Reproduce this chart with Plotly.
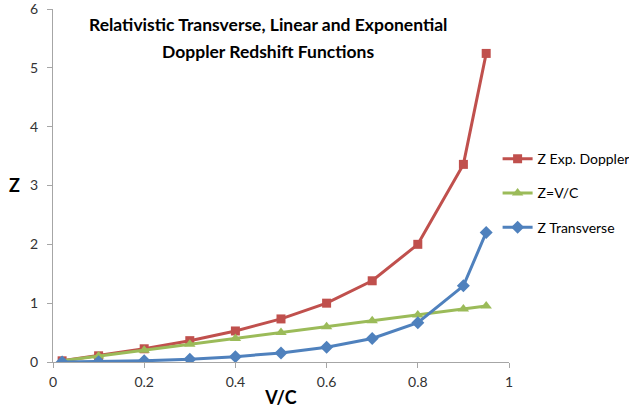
import plotly.graph_objects as go

# velocity as a fraction of c
v_over_c = [0.02, 0.1, 0.2, 0.3, 0.4, 0.5, 0.6, 0.7, 0.8, 0.9, 0.95]

# redshift values for each model
z_exp_doppler = [0.0202, 0.1055, 0.2247, 0.3628, 0.5275, 0.7321, 1.0, 1.3805, 2.0, 3.3589, 5.245]
z_linear = [0.02, 0.1, 0.2, 0.3, 0.4, 0.5, 0.6, 0.7, 0.8, 0.9, 0.95]
z_transverse = [0.0002, 0.005, 0.0206, 0.0483, 0.0911, 0.1547, 0.25, 0.4003, 0.6667, 1.2942, 2.2026]

x_ticks = [0, 0.2, 0.4, 0.6, 0.8, 1]
y_ticks = [0, 1, 2, 3, 4, 5, 6]

title_lines = ["Relativistic Transverse, Linear and Exponential", "Doppler Redshift Functions"]

fig = go.Figure()

series = [
    ("Z Exp. Doppler", z_exp_doppler, "#C0504D", "square", 9),
    ("Z=V/C", z_linear, "#9BBB59", "triangle-up", 10),
    ("Z Transverse", z_transverse, "#4F81BD", "diamond", 10),
]
for i, (name, ys, color, symbol, msize) in enumerate(series):
    fig.add_trace(go.Scatter(
        x=v_over_c, y=ys, name=name, mode="lines+markers",
        line=dict(color=color, width=3),
        marker=dict(symbol=symbol, size=msize, color=color),
        legendgroup=f"g{i}",
    ))

axis_font = dict(family="Lato, Liberation Sans, sans-serif", size=14, color="#333333")
title_font = dict(family="Lato, Liberation Sans, sans-serif", size=17.5, color="black")

# two-line chart title, drawn with wider line spacing
for line, yp in zip(title_lines, [0.9575, 0.881]):
    fig.add_annotation(
        text=f"<b>{line}</b>", xref="paper", yref="paper",
        x=0.4715, y=yp, xanchor="center", yanchor="middle",
        showarrow=False, font=title_font,
    )

# y-axis title
fig.add_annotation(
    text="<b>Z</b>", xref="paper", yref="paper",
    x=-0.0855, y=0.501, xanchor="center", yanchor="middle",
    showarrow=False, font=dict(title_font, size=18),
)

fig.update_layout(
    width=629, height=412,
    margin=dict(l=53, r=120, t=9, b=50, autoexpand=False),
    paper_bgcolor="white", plot_bgcolor="white",
    legend=dict(
        x=0.975, xanchor="left",
        y=0.62, yanchor="top",
        font=dict(family="Lato, Liberation Sans, sans-serif", size=14, color="black"),
        traceorder="grouped", tracegroupgap=13, itemwidth=30,
        bgcolor="rgba(0,0,0,0)",
    ),
    xaxis=dict(
        range=[0, 1], tickvals=x_ticks, ticktext=[str(t) for t in x_ticks],
        showgrid=False, zeroline=False, showline=True, linecolor="#A6A6A6", linewidth=1,
        ticks="outside", ticklen=5, tickcolor="#A6A6A6", tickfont=axis_font,
        ticklabelstandoff=2,
        title=dict(text="<b>V/C</b>", font=dict(title_font, size=18), standoff=2),
    ),
    yaxis=dict(
        range=[0, 6], tickvals=y_ticks, ticklabeloverflow="allow",
        showgrid=False, zeroline=False, showline=True, linecolor="#A6A6A6", linewidth=1,
        ticks="outside", ticklen=5, tickcolor="#A6A6A6", tickfont=axis_font,
        ticklabelstandoff=6,
    ),
)

fig.write_html("out.html")
